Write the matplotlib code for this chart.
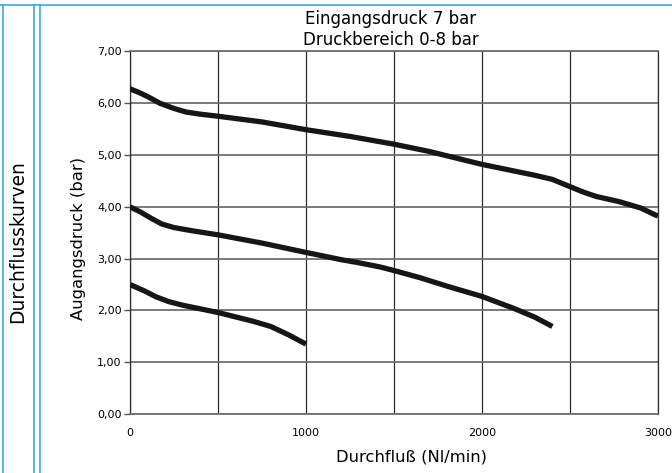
"""Durchflusskurven: Ausgangsdruck über Durchfluss bei 7 bar Eingangsdruck."""

import matplotlib

matplotlib.use("Agg")
import matplotlib.pyplot as plt
from matplotlib.lines import Line2D

W, H = 672, 473

# (Nl/min, bar)
flow_high = [0, 50, 100, 170, 250, 320, 400, 500, 750, 1000, 1250, 1500, 1700, 2000,
             2200, 2300, 2400, 2500, 2580, 2650, 2780, 2900, 3000]
p_high = [6.28, 6.21, 6.13, 6.00, 5.90, 5.83, 5.79, 5.75, 5.64, 5.49, 5.36, 5.21, 5.07, 4.82,
          4.68, 4.61, 4.53, 4.39, 4.28, 4.20, 4.10, 3.98, 3.82]

flow_mid = [0, 60, 120, 180, 250, 350, 500, 750, 1000, 1200, 1300, 1420, 1500, 1650,
            1800, 2000, 2180, 2300, 2400]
p_mid = [4.00, 3.90, 3.78, 3.67, 3.60, 3.54, 3.46, 3.30, 3.12, 2.98, 2.92, 2.84, 2.77, 2.63,
         2.47, 2.27, 2.04, 1.87, 1.69]

flow_low = [0, 80, 150, 220, 300, 400, 500, 700, 800, 900, 1000]
p_low = [2.50, 2.38, 2.26, 2.17, 2.10, 2.03, 1.96, 1.79, 1.69, 1.53, 1.35]

x_major = [0, 1000, 2000, 3000]
x_minor = [500, 1500, 2500]
y_ticks = [0, 1, 2, 3, 4, 5, 6, 7]
y_labels = ["0,00", "1,00", "2,00", "3,00", "4,00", "5,00", "6,00", "7,00"]

title_lines = ["Eingangsdruck 7 bar", "Druckbereich 0-8 bar"]
side_label = "Durchflusskurven"

BLUE = "#2aa3dc"
plt.rcParams["font.family"] = "DejaVu Sans"

fig = plt.figure(figsize=(W / 100, H / 100), dpi=100)
ax = fig.add_axes([130 / W, 1 - 414 / H, 528 / W, (414 - 51.5) / H])

for xs, ys in ((flow_high, p_high), (flow_mid, p_mid), (flow_low, p_low)):
    ax.plot(xs, ys, color="#161616", lw=3.8, solid_capstyle="butt",
            solid_joinstyle="round", zorder=3)

ax.set_xlim(0, 3000)
ax.set_ylim(0, 7)
ax.set_xticks(x_major)
ax.set_xticks(x_minor, minor=True)
ax.set_yticks(y_ticks, y_labels)
ax.tick_params(axis="y", length=4, width=1, color="#555555", labelsize=8, pad=2)
ax.tick_params(axis="x", which="both", length=0, labelsize=8, pad=10)
ax.xaxis.grid(True, which="both", color="#2e2e2e", lw=0.9)
ax.yaxis.grid(True, color="#707070", lw=1.3)
for side, spine in ax.spines.items():
    spine.set_color("#707070" if side in ("top", "bottom") else "#2e2e2e")
    spine.set_linewidth(1.3 if side in ("top", "bottom") else 0.9)

fig.text(391 / W, 1 - 19 / H, title_lines[0], ha="center", va="center", fontsize=12)
fig.text(391 / W, 1 - 40 / H, title_lines[1], ha="center", va="center", fontsize=12)
fig.text(411 / W, 1 - 457 / H, "Durchfluß (Nl/min)", ha="center", va="center", fontsize=11.8)
fig.text(78 / W, 1 - 238 / H, "Augangsdruck (bar)", ha="center", va="center",
         rotation=90, fontsize=11.8)
fig.text(18 / W, 1 - 242 / H, side_label, ha="center", va="center",
         rotation=90, fontsize=13.4)

# blue page frame lines on the left / top
for xs, ys in (([0, W], [5.3, 5.3]), ([2.5, 2.5], [5.3, H]),
               ([33.5, 33.5], [5.3, H]), ([39.5, 39.5], [5.3, H])):
    fig.add_artist(Line2D([x / W for x in xs], [1 - y / H for y in ys],
                          color=BLUE, lw=1.1))

fig.savefig("out.png", dpi=100)
